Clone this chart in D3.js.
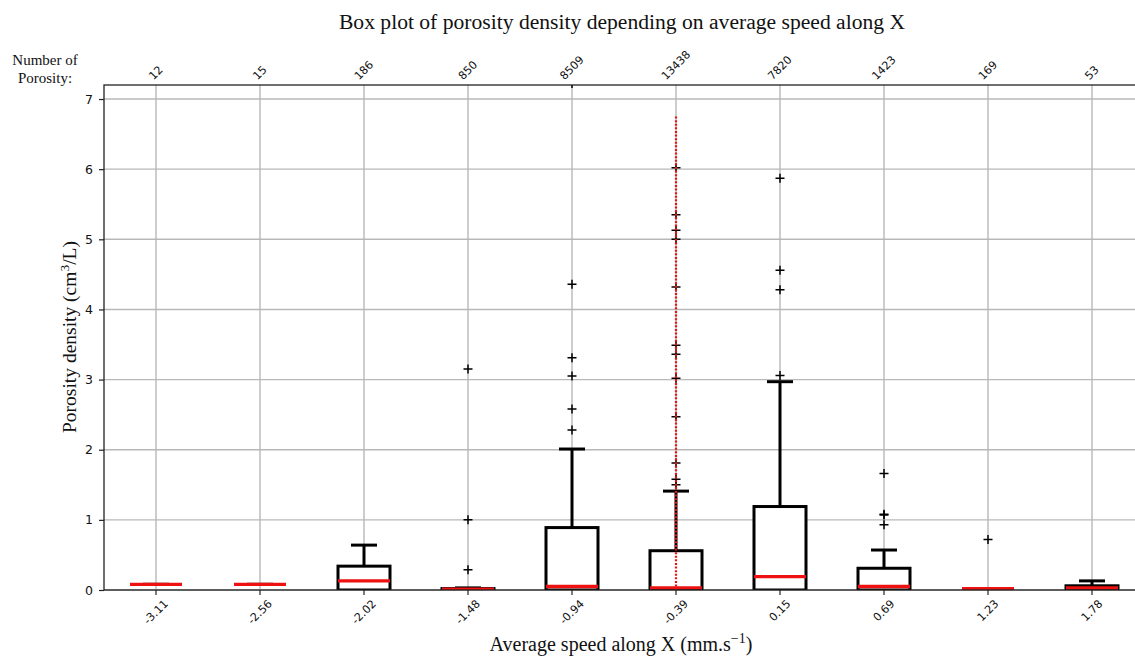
<!DOCTYPE html>
<html>
<head>
<meta charset="utf-8">
<script src="https://cdn.jsdelivr.net/npm/d3@7/dist/d3.min.js"></script>
<style>
  html, body { margin: 0; padding: 0; background: #fff; }
  svg { display: block; }
</style>
</head>
<body>
<div id="chart"></div>
<script>
// ---------------- DATA ----------------
const speeds = ["-3.11", "-2.56", "-2.02", "-1.48", "-0.94", "-0.39", "0.15", "0.69", "1.23", "1.78"];
const counts = [12, 15, 186, 850, 8509, 13438, 7820, 1423, 169, 53];
const whiskerLow = [0.08, 0.08, 0.00, 0.00, 0.00, 0.00, 0.00, 0.00, 0.02, 0.00];
const q1 = [0.08, 0.08, 0.00, 0.00, 0.00, 0.00, 0.00, 0.00, 0.02, 0.00];
const medians = [0.08, 0.08, 0.13, 0.01, 0.05, 0.03, 0.19, 0.05, 0.02, 0.03];
const q3 = [0.08, 0.08, 0.34, 0.02, 0.89, 0.56, 1.19, 0.31, 0.02, 0.06];
const whiskerHigh = [0.08, 0.08, 0.64, 0.03, 2.01, 1.41, 2.97, 0.57, 0.02, 0.13];
const outliers = [
  [],
  [],
  [],
  [0.29, 1.00, 3.15],
  [2.28, 2.58, 3.05, 3.31, 4.36, 7.22],
  [1.50, 1.58, 1.81, 2.47, 3.02, 3.36, 3.49, 4.32, 5.00, 5.13, 5.35, 6.02],
  [3.06, 4.28, 4.56, 5.87],
  [0.93, 1.07, 1.08, 1.66],
  [0.72],
  []
];
const yTicks = [0, 1, 2, 3, 4, 5, 6, 7];
const highlightSpeed = "-0.39";
const highlightRange = [0, 6.75];
const titleText = "Box plot of porosity density depending on average speed along X";

// ---------------- LAYOUT ----------------
const W = 1135, H = 659;
const plot = { left: 104, right: 1144, top: 85, bottom: 590 };

const svg = d3.select("#chart").append("svg")
  .attr("width", W).attr("height", H);

const x = d3.scaleBand().domain(speeds).range([plot.left, plot.right]).padding(0);
const y = d3.scaleLinear().domain([0, 7.2]).range([plot.bottom, plot.top]);
const cx = s => x(s) + x.bandwidth() / 2;
const boxW = x.bandwidth() * 0.5;
const capW = boxW * 0.5;

svg.append("defs").append("clipPath").attr("id", "clip")
  .append("rect").attr("x", plot.left).attr("y", plot.top)
  .attr("width", plot.right - plot.left).attr("height", plot.bottom - plot.top);

// grid
const grid = svg.append("g");
grid.selectAll("line.gy").data(yTicks).join("line")
  .attr("x1", plot.left).attr("x2", plot.right)
  .attr("y1", d => y(d)).attr("y2", d => y(d))
  .attr("stroke", "#b8b8b8").attr("stroke-width", 1.4);
grid.selectAll("line.gx").data(speeds).join("line")
  .attr("x1", d => cx(d)).attr("x2", d => cx(d))
  .attr("y1", plot.top).attr("y2", plot.bottom)
  .attr("stroke", "#b8b8b8").attr("stroke-width", 1.4);

// boxes
const rows = speeds.map((s, i) => ({
  s, lo: whiskerLow[i], q1: q1[i], med: medians[i], q3: q3[i], hi: whiskerHigh[i], out: outliers[i]
}));
const gB = svg.append("g").attr("clip-path", "url(#clip)");
const bx = gB.selectAll("g.box").data(rows).join("g");
// whiskers
bx.append("line").attr("x1", d => cx(d.s)).attr("x2", d => cx(d.s))
  .attr("y1", d => y(d.q3)).attr("y2", d => y(d.hi))
  .attr("stroke", "#000").attr("stroke-width", 3);
bx.append("line").attr("x1", d => cx(d.s)).attr("x2", d => cx(d.s))
  .attr("y1", d => y(d.q1)).attr("y2", d => y(d.lo))
  .attr("stroke", "#000").attr("stroke-width", 3);
// caps
bx.append("line").attr("x1", d => cx(d.s) - capW / 2).attr("x2", d => cx(d.s) + capW / 2)
  .attr("y1", d => y(d.hi)).attr("y2", d => y(d.hi))
  .attr("stroke", "#000").attr("stroke-width", 3);
bx.append("line").attr("x1", d => cx(d.s) - capW / 2).attr("x2", d => cx(d.s) + capW / 2)
  .attr("y1", d => y(d.lo)).attr("y2", d => y(d.lo))
  .attr("stroke", "#000").attr("stroke-width", 3);
// box
bx.append("rect")
  .attr("x", d => cx(d.s) - boxW / 2).attr("width", boxW)
  .attr("y", d => y(d.q3)).attr("height", d => y(d.q1) - y(d.q3))
  .attr("fill", "#fff").attr("stroke", "#000").attr("stroke-width", 3);
// median
bx.append("line").attr("x1", d => cx(d.s) - boxW / 2).attr("x2", d => cx(d.s) + boxW / 2)
  .attr("y1", d => y(d.med)).attr("y2", d => y(d.med))
  .attr("stroke", "#ee1111").attr("stroke-width", 3.4);
// outliers (+)
bx.each(function (d) {
  const g = d3.select(this);
  d.out.forEach(v => {
    const px = cx(d.s), py = y(v);
    g.append("path").attr("d", `M${px - 4.5},${py}H${px + 4.5}M${px},${py - 4.5}V${py + 4.5}`)
      .attr("stroke", "#000").attr("stroke-width", 1.5).attr("fill", "none");
  });
});

// highlight dotted red line
gB.append("line")
  .attr("x1", cx(highlightSpeed)).attr("x2", cx(highlightSpeed))
  .attr("y1", y(highlightRange[1])).attr("y2", y(highlightRange[0]))
  .attr("stroke", "#ee1111").attr("stroke-width", 2.2).attr("stroke-dasharray", "2,1.6");

// frame
svg.append("rect").attr("x", plot.left).attr("y", plot.top)
  .attr("width", plot.right - plot.left).attr("height", plot.bottom - plot.top)
  .attr("fill", "none").attr("stroke", "#222").attr("stroke-width", 1.3);

// y axis
const yAxis = svg.append("g").attr("transform", `translate(${plot.left},0)`)
  .call(d3.axisLeft(y).tickValues(yTicks).tickFormat(d3.format("d")).tickSize(5).tickPadding(6));
yAxis.select(".domain").remove();
yAxis.selectAll("line").attr("stroke", "#222").attr("stroke-width", 1.2);
yAxis.selectAll("text").attr("font-family", "DejaVu Sans").attr("font-size", 12.5).attr("fill", "#111");

// bottom ticks
svg.append("g").selectAll("line").data(speeds).join("line")
  .attr("x1", d => cx(d)).attr("x2", d => cx(d))
  .attr("y1", plot.bottom).attr("y2", plot.bottom + 5)
  .attr("stroke", "#222").attr("stroke-width", 1.2);

function rotLabels(data, texts, edgeY, above) {
  const fs = 11.2;
  const g = svg.append("g");
  g.selectAll("text").data(data).join("text")
    .attr("font-family", "DejaVu Sans").attr("font-size", fs).attr("fill", "#111")
    .attr("text-anchor", "middle").attr("dominant-baseline", "central")
    .text((d, i) => texts[i])
    .each(function (d) {
      const w = this.getComputedTextLength();
      const h = fs * 0.75;
      const half = (w + h) / (2 * Math.SQRT2);
      const px = cx(d);
      const py = above ? edgeY - half : edgeY + half;
      d3.select(this).attr("x", px).attr("y", py)
        .attr("transform", `rotate(-45,${px},${py})`);
    });
}
rotLabels(speeds, speeds, 599, false);
rotLabels(speeds, counts.map(String), 81, true);

// texts
svg.append("text").attr("x", 622).attr("y", 29)
  .attr("text-anchor", "middle").attr("font-family", "Liberation Serif")
  .attr("font-size", 21.6).attr("fill", "#111").text(titleText);

const nl = svg.append("text").attr("font-family", "Liberation Serif")
  .attr("font-size", 15).attr("fill", "#111").attr("text-anchor", "middle");
nl.append("tspan").attr("x", 45).attr("y", 65).text("Number of");
nl.append("tspan").attr("x", 45).attr("y", 83).text("Porosity:");

const xl = svg.append("text").attr("x", 621).attr("y", 651)
  .attr("text-anchor", "middle").attr("font-family", "Liberation Serif")
  .attr("font-size", 20).attr("fill", "#111");
xl.append("tspan").text("Average speed along X (mm.s");
xl.append("tspan").attr("dy", -8).attr("font-size", 14).text("\u22121");
xl.append("tspan").attr("dy", 8).text(")");

const yl = svg.append("text").attr("transform", `translate(76,337) rotate(-90)`)
  .attr("text-anchor", "middle").attr("font-family", "Liberation Serif")
  .attr("font-size", 19.5).attr("fill", "#111");
yl.append("tspan").text("Porosity density (cm");
yl.append("tspan").attr("dy", -7).attr("font-size", 13.5).text("3");
yl.append("tspan").attr("dy", 7).text("/L)");
</script>
</body>
</html>
